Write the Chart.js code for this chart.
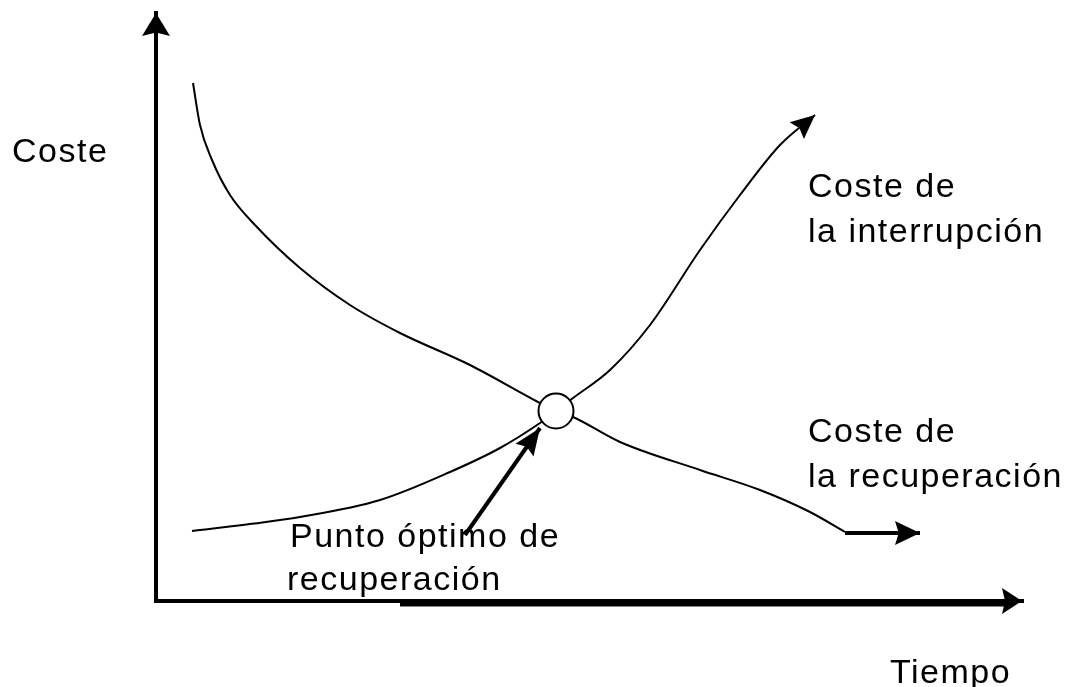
<!DOCTYPE html>
<html>
<head>
<meta charset="utf-8">
<script src="https://cdn.jsdelivr.net/npm/chart.js@4/dist/chart.umd.min.js"></script>
<style>
  html, body { margin: 0; padding: 0; background: #fff; }
  #wrap { width: 1069px; height: 687px; position: relative; }
</style>
</head>
<body>
<div id="wrap"><canvas id="c"></canvas></div>
<script>
// ---- Data (Tiempo on x, Coste on y; origin at the axes' corner) ----
const recupTiempo = [3.7, 4.4, 5.6, 7.4, 9.9, 14.4, 19.4, 24.4, 31.4, 38.2, 40.0, 41.7, 46.4, 54.4, 60.4, 65.4, 68.9];
const recupCoste  = [51.8, 47.6, 44.1, 40.6, 37.6, 33.3, 29.6, 26.8, 23.6, 19.9, 19.0, 18.4, 15.9, 13.1, 11.1, 8.9, 6.9];
const recupArrowTiempo = [68.9, 76.4];
const recupArrowCoste  = [6.8, 6.8];

const interTiempo = [3.6, 9.4, 14.4, 22.4, 29.4, 34.4, 38.4, 40.0, 41.7, 45.4, 49.4, 54.4, 58.4, 62.4, 65.9];
const interCoste  = [7.0, 7.7, 8.4, 10.1, 12.9, 15.3, 17.8, 19.0, 20.3, 23.1, 27.6, 35.1, 40.6, 45.6, 48.6];

const optimoTiempo = [40.0];
const optimoCoste  = [19.0];

const pointerTiempo = [30.9, 38.4];
const pointerCoste  = [6.6, 17.3];

const yAxisTiempo = [0, 0];
const yAxisCoste  = [0, 58.8];
const xAxisTiempo = [0, 86.6];
const xAxisCoste  = [0, 0];
const xAxisThickTiempo = [24.4, 85.0];
const xAxisThickCoste  = [-0.25, -0.25];

const labelTexts   = ['Coste', 'Coste de', 'la interrupción', 'Coste de', 'la recuperación', 'Punto óptimo de', 'recuperación', 'Tiempo'];
const labelTiempo  = [-14.4, 65.2, 65.2, 65.2, 65.2, 13.4, 13.1, 73.4];
const labelCoste   = [43.9, 40.4, 35.9, 15.9, 11.4, 5.4, 1.1, -8.2];

const pts = (xs, ys) => xs.map((x, i) => ({ x, y: ys[i] }));

const arrowPlugin = {
  id: 'arrows',
  afterDatasetsDraw(chart) {
    const ctx = chart.ctx;
    chart.data.datasets.forEach((ds, i) => {
      if (!ds.arrow) return;
      const meta = chart.getDatasetMeta(i);
      const n = meta.data.length;
      const a = meta.data[n - 2], b = meta.data[n - 1];
      const ang = Math.atan2(b.y - a.y, b.x - a.x);
      const L = ds.arrow.len, H = ds.arrow.half;
      ctx.save();
      ctx.translate(b.x, b.y);
      ctx.rotate(ang);
      ctx.beginPath();
      ctx.moveTo(0, 0);
      ctx.lineTo(-L, -H);
      ctx.lineTo(-L * 0.85, 0);
      ctx.lineTo(-L, H);
      ctx.closePath();
      ctx.fillStyle = '#000';
      ctx.fill();
      ctx.restore();
    });
  }
};

const labelPlugin = {
  id: 'labels',
  afterDraw(chart) {
    const ctx = chart.ctx;
    const xs = chart.scales.x, ys = chart.scales.y;
    ctx.save();
    ctx.fillStyle = '#000';
    ctx.font = '34px "Liberation Sans", Arial, sans-serif';
    ctx.letterSpacing = '1.5px';
    ctx.textBaseline = 'alphabetic';
    ctx.textAlign = 'left';
    labelTexts.forEach((t, i) => {
      ctx.fillText(t, xs.getPixelForValue(labelTiempo[i]), ys.getPixelForValue(labelCoste[i]));
    });
    ctx.restore();
  }
};

const lineBase = { showLine: true, pointRadius: 0, borderColor: '#000', fill: false };

new Chart(document.getElementById('c'), {
  type: 'scatter',
  data: {
    datasets: [
      { data: pts(optimoTiempo, optimoCoste), pointRadius: 17.5, pointBackgroundColor: '#fff', pointBorderColor: '#000', pointBorderWidth: 2, showLine: false, clip: false },
      Object.assign({}, lineBase, { data: pts(pointerTiempo, pointerCoste), borderWidth: 4, arrow: { len: 27, half: 11 } }),
      Object.assign({}, lineBase, { data: pts(recupTiempo, recupCoste), borderWidth: 2, cubicInterpolationMode: 'monotone' }),
      Object.assign({}, lineBase, { data: pts(recupArrowTiempo, recupArrowCoste), borderWidth: 4, arrow: { len: 25, half: 12 } }),
      Object.assign({}, lineBase, { data: pts(interTiempo, interCoste), borderWidth: 2, cubicInterpolationMode: 'monotone', arrow: { len: 24, half: 11 } }),
      Object.assign({}, lineBase, { data: pts(yAxisTiempo, yAxisCoste), borderWidth: 4, borderCapStyle: 'square', arrow: { len: 23, half: 14 } }),
      Object.assign({}, lineBase, { data: pts(xAxisTiempo, xAxisCoste), borderWidth: 4, borderCapStyle: 'square', arrow: { len: 20, half: 13 } }),
      Object.assign({}, lineBase, { data: pts(xAxisThickTiempo, xAxisThickCoste), borderWidth: 6 })
    ]
  },
  options: {
    responsive: true,
    maintainAspectRatio: false,
    animation: false,
    events: [],
    layout: { padding: 0, autoPadding: false },
    plugins: { legend: { display: false }, tooltip: { enabled: false }, title: { display: false } },
    scales: {
      x: { type: 'linear', min: -15.6, max: 91.3, display: false },
      y: { type: 'linear', min: -8.6, max: 60.1, display: false }
    }
  },
  plugins: [arrowPlugin, labelPlugin]
});
</script>
</body>
</html>
